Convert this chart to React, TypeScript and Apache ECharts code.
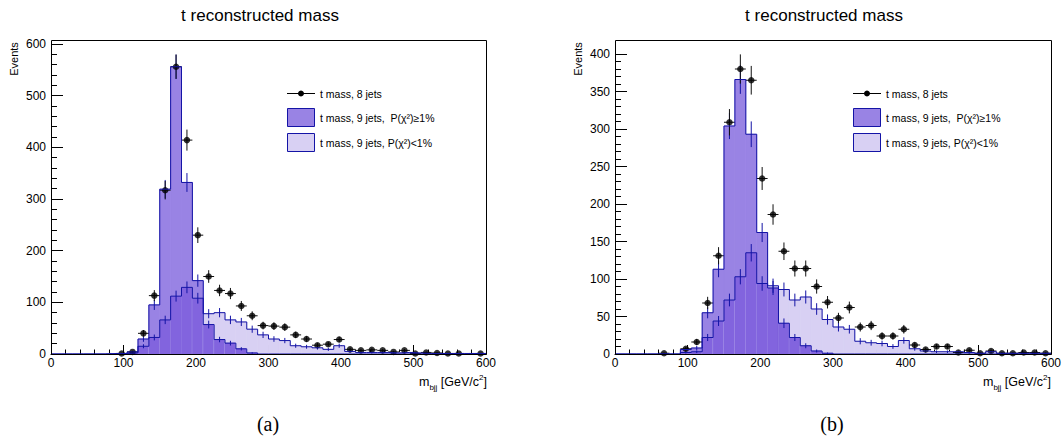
import React, { useEffect, useRef } from "react";
import * as echarts from "echarts";

// ---------- data ----------
const BIN_WIDTH = 15;
const N_BINS = 40;
const binLow = Array.from({ length: N_BINS }, (_, i) => i * BIN_WIDTH);

const xTicks = [0, 100, 200, 300, 400, 500, 600];

// panel (a)
const leftGood = [0, 0, 0, 0, 0, 0, 1, 4, 29, 95, 319, 556, 332, 142, 57, 28, 21, 10, 2, 0,
  0, 0, 0, 0, 0, 0, 0, 0, 0, 0, 0, 0, 0, 0, 0, 0, 0, 0, 0, 0];
const leftBad = [0, 0, 0, 0, 0, 1, 1, 2, 15, 32, 66, 112, 129, 108, 78, 80, 66, 62, 48, 37,
  29, 26, 16, 14, 12, 9, 16, 5, 3, 3, 3, 2, 3, 2, 1, 1, 1, 1, 1, 1];
const leftData = [0, 0, 0, 0, 0, 0, 1, 4, 40, 113, 317, 556, 414, 230, 150, 123, 117, 93, 74, 55,
  54, 52, 37, 29, 17, 19, 28, 9, 7, 8, 7, 4, 7, 1, 3, 2, 1, 1, 0, 1];

// panel (b)
const rightGood = [0, 0, 0, 0, 0, 0, 6, 8, 55, 113, 304, 366, 293, 162, 88, 41, 22, 11, 4, 1,
  0, 0, 0, 0, 0, 0, 0, 0, 0, 0, 0, 0, 0, 0, 0, 0, 0, 0, 0, 0];
const rightBad = [0, 0, 0, 0, 0, 0, 2, 3, 22, 44, 72, 103, 135, 94, 91, 86, 72, 76, 60, 46,
  36, 33, 17, 15, 14, 10, 18, 7, 4, 3, 3, 3, 2, 1, 3, 1, 1, 1, 1, 1];
const rightData = [0, 0, 0, 0, 1, 0, 7, 16, 68, 131, 309, 380, 365, 234, 186, 137, 114, 114, 90, 69,
  48, 62, 36, 38, 24, 24, 33, 12, 6, 10, 10, 2, 5, 1, 4, 1, 1, 2, 2, 1];

const titleText = "t reconstructed mass";
const legendLabels = ["t mass, 8 jets", "t mass, 9 jets,  P(\u03c7\u00b2)\u22651%", "t mass, 9 jets, P(\u03c7\u00b2)<1%"];

// ---------- style ----------
const MED = "#9983e4";
const LAV = "#d8d0f3";
const DARK = "#8264de";
const BLUE = "#1414a6";
const FONT = "Liberation Sans";

const panels = [
  { good: leftGood, bad: leftBad, data: leftData, yMax: 600, yInt: 100, grid: { left: 51, top: 44, width: 435, height: 310 }, frame: { x: 51, y: 40, w: 435, h: 314 }, dx: 0, label: "(a)" },
  { good: rightGood, bad: rightBad, data: rightData, yMax: 400, yInt: 50, grid: { left: 615, top: 54, width: 436, height: 300 }, frame: { x: 615, y: 40, w: 436, h: 314 }, dx: 564, label: "(b)" },
];

function fillItem(params: any, api: any) {
  const lo = api.value(0), hi = api.value(1), g = api.value(2), b = api.value(3);
  const rect = (v: number, color: string) => {
    const p0 = api.coord([lo, v]);
    const p1 = api.coord([hi, 0]);
    return {
      type: "rect",
      shape: { x: p0[0], y: p0[1], width: p1[0] - p0[0], height: p1[1] - p0[1] },
      style: { fill: color, stroke: v > 0 ? color : "none", lineWidth: 0.8 },
    };
  };
  return { type: "group", children: [rect(g, MED), rect(b, LAV), rect(Math.min(g, b), DARK)] };
}

function histErrItem(params: any, api: any) {
  const c = api.value(0), v = api.value(1);
  const e = Math.sqrt(v);
  const t = api.coord([c, v + e]);
  const b = api.coord([c, Math.max(0, v - e)]);
  return { type: "line", shape: { x1: t[0], y1: t[1], x2: b[0], y2: b[1] }, style: { stroke: BLUE, lineWidth: 1 } };
}

function dataErrItem(params: any, api: any) {
  const c = api.value(0), v = api.value(1);
  const e = Math.sqrt(v);
  const t = api.coord([c, v + e]);
  const b = api.coord([c, Math.max(0, v - e)]);
  const l = api.coord([c - BIN_WIDTH / 2, v]);
  const r = api.coord([c + BIN_WIDTH / 2, v]);
  return {
    type: "group",
    children: [
      { type: "line", shape: { x1: t[0], y1: t[1], x2: b[0], y2: b[1] }, style: { stroke: "#111", lineWidth: 1 } },
      { type: "line", shape: { x1: l[0], y1: l[1], x2: r[0], y2: r[1] }, style: { stroke: "#111", lineWidth: 1 } },
    ],
  };
}

function stepData(vals: number[]) {
  const d = binLow.map((x, i) => [x, vals[i]]);
  d.push([binLow[N_BINS - 1] + BIN_WIDTH, vals[N_BINS - 1]]);
  return d;
}

function buildOption() {
  const grid: any[] = [];
  const xAxis: any[] = [];
  const yAxis: any[] = [];
  const series: any[] = [];
  const graphic: any[] = [];

  panels.forEach((p, k) => {
    grid.push({ ...p.grid, containLabel: false });
    xAxis.push({
      type: "value", gridIndex: k, min: xTicks[0], max: xTicks[xTicks.length - 1], interval: 100,
      axisLine: { show: true, lineStyle: { color: "#000", width: 1 } },
      axisTick: { show: true, inside: true, length: 9, lineStyle: { color: "#000" } },
      minorTick: { show: true, splitNumber: 5, length: 4.5, lineStyle: { color: "#000" } },
      splitLine: { show: false },
      axisLabel: { color: "#000", fontSize: 12, fontFamily: FONT, margin: 3 },
    });
    yAxis.push({
      type: "value", gridIndex: k, min: 0, max: p.yMax, interval: p.yInt,
      axisLine: { show: true, lineStyle: { color: "#000", width: 1 } },
      axisTick: { show: true, inside: true, length: 12, lineStyle: { color: "#000" } },
      minorTick: { show: true, splitNumber: 5, length: 6, lineStyle: { color: "#000" } },
      splitLine: { show: false },
      axisLabel: { color: "#000", fontSize: 12, fontFamily: FONT, margin: 5 },
    });

    series.push({
      type: "custom", xAxisIndex: k, yAxisIndex: k, renderItem: fillItem, clip: false,
      data: binLow.map((x, i) => [x, x + BIN_WIDTH, p.good[i], p.bad[i]]),
    });
    [p.good, p.bad].forEach((vals) => {
      series.push({
        type: "line", xAxisIndex: k, yAxisIndex: k, step: "end", symbol: "none", showSymbol: false,
        lineStyle: { color: BLUE, width: 1 }, data: stepData(vals), silent: true,
      });
    });
    [p.good, p.bad].forEach((vals) => {
      series.push({
        type: "custom", xAxisIndex: k, yAxisIndex: k, renderItem: histErrItem, clip: false,
        data: binLow.map((x, i) => [x + BIN_WIDTH / 2, vals[i]]).filter((d) => d[1] > 0),
      });
    });
    const pts = binLow.map((x, i) => [x + BIN_WIDTH / 2, p.data[i]]).filter((d) => d[1] > 0);
    series.push({ type: "custom", xAxisIndex: k, yAxisIndex: k, renderItem: dataErrItem, clip: false, data: pts });
    series.push({
      type: "scatter", xAxisIndex: k, yAxisIndex: k, symbol: "circle", symbolSize: 6.5,
      itemStyle: { color: "#000" }, data: pts, silent: true,
    });

    const f = p.frame;
    graphic.push({ type: "rect", shape: { x: f.x + 0.5, y: f.y + 0.5, width: f.w, height: f.h }, style: { fill: "none", stroke: "#000", lineWidth: 1 }, z: 100 });
    // title
    graphic.push({ type: "text", x: 260 + p.dx, y: 15, style: { text: titleText, font: `17px "${FONT}"`, fill: "#000", textAlign: "center", textVerticalAlign: "middle" } });
    // y title
    graphic.push({ type: "text", x: 14 + p.dx, y: 59, rotation: Math.PI / 2, style: { text: "Events", font: `11px "${FONT}"`, fill: "#000", textAlign: "center", textVerticalAlign: "middle" } });
    // x title
    graphic.push({
      type: "text", x: 487 + p.dx, y: 382,
      style: {
        text: "{a|m}{b|bjj}{a| [GeV/c}{c|2}{a|]}", textAlign: "right", textVerticalAlign: "middle", fill: "#000",
        rich: {
          a: { fontSize: 12.5, fontFamily: FONT, lineHeight: 18, fill: "#000" },
          b: { fontSize: 8, fontFamily: FONT, verticalAlign: "bottom", lineHeight: 8, fill: "#000" },
          c: { fontSize: 8, fontFamily: FONT, verticalAlign: "top", lineHeight: 8, fill: "#000" },
        },
      },
    });
    // sub-figure label
    graphic.push({ type: "text", x: 268 + p.dx, y: 424, style: { text: p.label, font: `20px "Liberation Serif"`, fill: "#000", textAlign: "center", textVerticalAlign: "middle" } });
    // legend
    const lx = 287 + (k === 1 ? 566 : 0);
    graphic.push({ type: "line", shape: { x1: lx, y1: 93.5, x2: lx + 28, y2: 93.5 }, style: { stroke: "#000", lineWidth: 1 }, z: 101 });
    graphic.push({ type: "circle", shape: { cx: lx + 14, cy: 93.5, r: 3 }, style: { fill: "#000" }, z: 101 });
    graphic.push({ type: "rect", shape: { x: lx + 0.5, y: 108.5, width: 27, height: 18 }, style: { fill: MED, stroke: BLUE, lineWidth: 1 }, z: 101 });
    graphic.push({ type: "rect", shape: { x: lx + 0.5, y: 133.5, width: 27, height: 18 }, style: { fill: LAV, stroke: BLUE, lineWidth: 1 }, z: 101 });
    [93.5, 118, 142.5].forEach((yy, j) => {
      graphic.push({ type: "text", x: lx + 33, y: yy, style: { text: legendLabels[j], font: `10.5px "${FONT}"`, fill: "#000", textAlign: "left", textVerticalAlign: "middle" }, z: 101 });
    });
  });

  return { animation: false, backgroundColor: "#fff", grid, xAxis, yAxis, series, graphic };
}

export default function App() {
  const ref = useRef<HTMLDivElement>(null);
  useEffect(() => {
    if (!ref.current) return;
    const chart = echarts.init(ref.current, undefined, { renderer: "svg" });
    chart.setOption(buildOption() as any);
    return () => chart.dispose();
  }, []);
  return <div ref={ref} style={{ position: "fixed", left: 0, top: 0, width: 1064, height: 444 }} />;
}
